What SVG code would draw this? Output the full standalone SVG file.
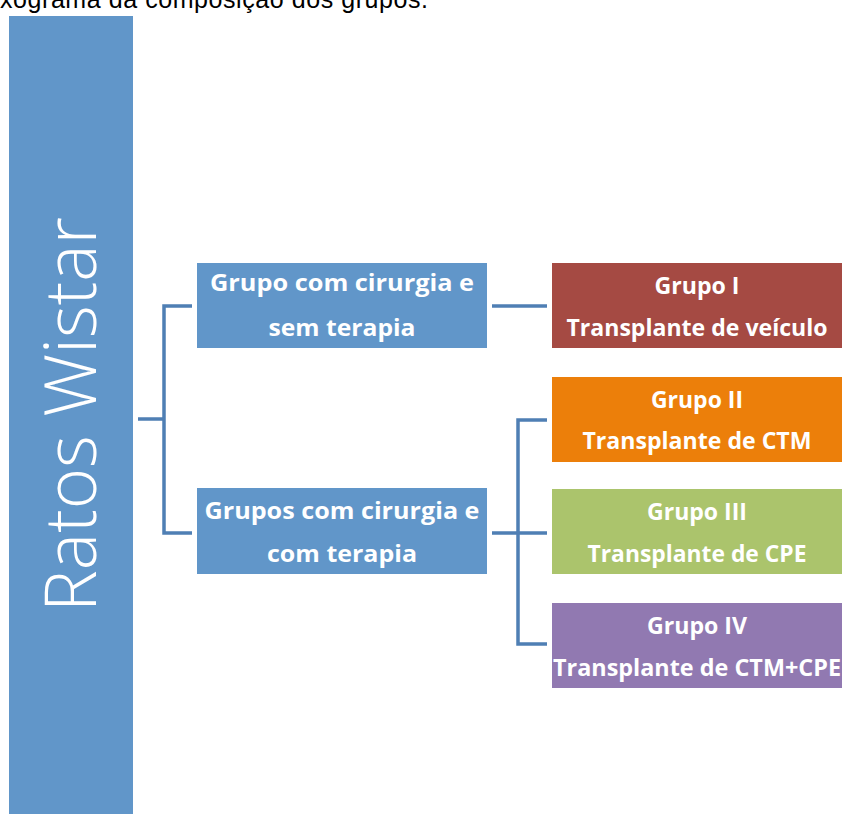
<svg xmlns="http://www.w3.org/2000/svg" width="842" height="814" viewBox="0 0 842 814">
<style>
.cap{font-family:"Liberation Sans",Arial,sans-serif;font-size:25px;fill:#000}
.lbl{font-family:"Open Sans","Noto Sans",sans-serif;font-weight:700;font-size:23px;fill:#fff;text-anchor:middle}
.big{font-family:"Open Sans","Noto Sans",sans-serif;font-weight:300;font-size:72px;fill:#fff}
.conn{fill:none;stroke:#4F7FB4;stroke-width:3.5}
</style>
<rect width="842" height="814" fill="#fff"/>
<text class="cap" x="0" y="8" textLength="428">xograma da composição dos grupos.</text>
<g id="ratos">
<rect x="9" y="16" width="124" height="800" fill="#6196C9"/>
<text class="big" transform="translate(96,612) rotate(-90)" x="0" y="0" textLength="395" lengthAdjust="spacingAndGlyphs">Ratos Wistar</text>
</g>
<g id="connectors">
<path class="conn" d="M138,419 H164 M192,306 H164 V533 H192"/>
<path class="conn" d="M492,306 H547"/>
<path class="conn" d="M492,533 H547 M547,420 H518 V644 H547"/>
</g>
<g id="sem">
<rect x="197" y="263" width="290" height="85" fill="#6196C9"/>
<text class="lbl" x="342" y="291" textLength="264" lengthAdjust="spacingAndGlyphs">Grupo com cirurgia e</text>
<text class="lbl" x="342" y="336" textLength="147" lengthAdjust="spacingAndGlyphs">sem terapia</text>
</g>
<g id="com">
<rect x="197" y="488" width="290" height="86" fill="#6196C9"/>
<text class="lbl" x="342" y="519" textLength="275" lengthAdjust="spacingAndGlyphs">Grupos com cirurgia e</text>
<text class="lbl" x="342" y="562" textLength="150" lengthAdjust="spacingAndGlyphs">com terapia</text>
</g>
<g id="g1">
<rect x="552" y="263" width="290" height="85" fill="#A54A43"/>
<text class="lbl" x="697" y="294" textLength="85" lengthAdjust="spacingAndGlyphs">Grupo I</text>
<text class="lbl" x="697" y="336" textLength="261" lengthAdjust="spacingAndGlyphs">Transplante de veículo</text>
</g>
<g id="g2">
<rect x="552" y="377" width="290" height="85" fill="#EC7F0A"/>
<text class="lbl" x="697" y="408" textLength="92" lengthAdjust="spacingAndGlyphs">Grupo II</text>
<text class="lbl" x="697" y="449" textLength="229" lengthAdjust="spacingAndGlyphs">Transplante de CTM</text>
</g>
<g id="g3">
<rect x="552" y="489" width="290" height="85" fill="#ABC46C"/>
<text class="lbl" x="697" y="520" textLength="100" lengthAdjust="spacingAndGlyphs">Grupo III</text>
<text class="lbl" x="697" y="562" textLength="219" lengthAdjust="spacingAndGlyphs">Transplante de CPE</text>
</g>
<g id="g4">
<rect x="552" y="603" width="290" height="85" fill="#9179B1"/>
<text class="lbl" x="697" y="634" textLength="100" lengthAdjust="spacingAndGlyphs">Grupo IV</text>
<text class="lbl" x="697" y="676" textLength="288" lengthAdjust="spacingAndGlyphs">Transplante de CTM+CPE</text>
</g>
</svg>
